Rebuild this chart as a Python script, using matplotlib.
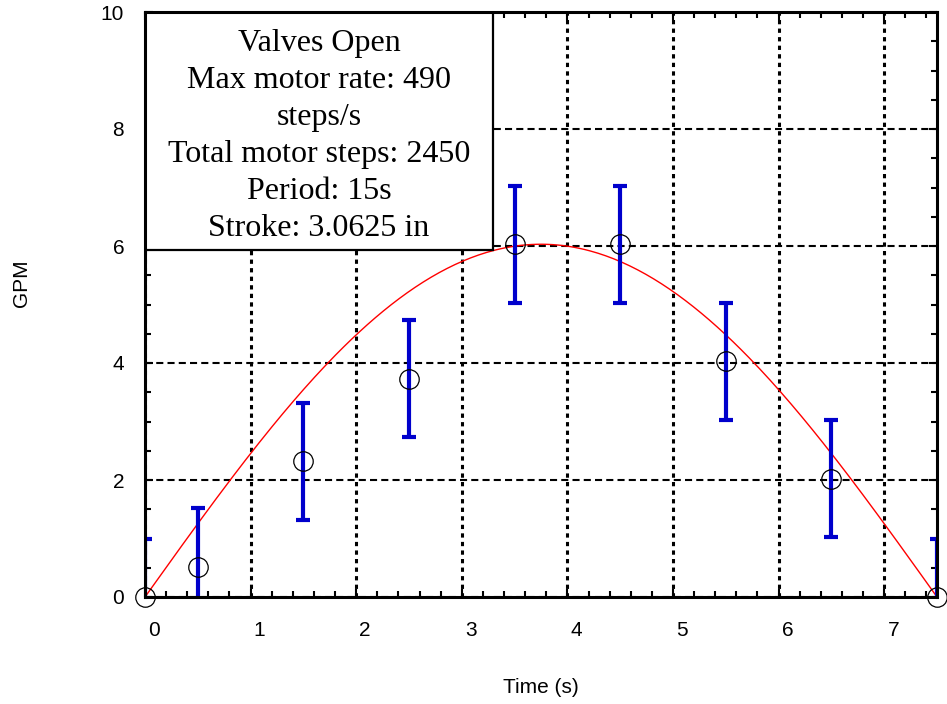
import numpy as np
import matplotlib
matplotlib.use("Agg")
import matplotlib.pyplot as plt
import matplotlib.transforms as mtransforms
from matplotlib.patches import Rectangle

# measured flow values
time_s = [0.0, 0.5, 1.5, 2.5, 3.5, 4.5, 5.5, 6.5, 7.5]
gpm = [0.0, 0.52, 2.32, 3.73, 6.03, 6.03, 4.03, 2.02, 0.0]
gpm_err = [1, 1, 1, 1, 1, 1, 1, 1, 1]

# model curve parameters
amplitude = 6.03
period = 15.0

info_lines = ["Valves Open", "Max motor rate: 490", "steps/s",
              "Total motor steps: 2450", "Period: 15s", "Stroke: 3.0625 in"]

plt.rcParams["font.family"] = ["Liberation Sans", "DejaVu Sans"]

fig = plt.figure(figsize=(9.47, 7.04), dpi=100)
ax = fig.add_axes([145/947, 1-597/704, 792/947, 585/704])

# model sine curve
t = np.linspace(0, 7.5, 300)
ax.plot(t, amplitude*np.sin(2*np.pi*t/period), color="red", lw=1, zorder=3)

# data with error bars
ax.errorbar(time_s, gpm, yerr=gpm_err, fmt="none", ecolor="#0000cc",
            elinewidth=3, capsize=5, capthick=3, zorder=4)
ax.plot(time_s, gpm, "o", mfc="none", mec="black", mew=0.9, ms=14,
        zorder=5, clip_on=False)

ax.set_xlim(0, 7.5)
ax.set_ylim(0, 10)
ax.set_xticks(range(0, 8))
ax.set_yticks(range(0, 11, 2))
ax.set_xticks(np.arange(0, 7.51, 0.2), minor=True)
ax.set_yticks(np.arange(0, 10.01, 0.5), minor=True)

ax.tick_params(which="both", direction="in", top=True, right=True,
               labelsize=15, width=1.5)
ax.tick_params(which="major", length=6)
ax.tick_params(which="minor", length=4.5)
ax.tick_params(axis="x", pad=17)
ax.tick_params(axis="y", pad=15)

# x tick labels sit a little right of the grid lines in the original
shift = mtransforms.ScaledTranslation(9/100, 0, fig.dpi_scale_trans)
for lab in ax.get_xticklabels():
    lab.set_transform(lab.get_transform() + shift)

for sp in ax.spines.values():
    sp.set_linewidth(2.2)
    sp.set_zorder(6)

ax.xaxis.grid(True, color="black", lw=2.2, ls=(0, (1.4, 1.4)))
ax.yaxis.grid(True, color="black", lw=1.5, ls=(0, (3.4, 2)))
ax.set_axisbelow(True)

# info box
box = Rectangle((0, 1-238/585), 348/792, 238/585, transform=ax.transAxes,
                facecolor="white", edgecolor="black", lw=1.6, zorder=3.5)
ax.add_patch(box)
ax.text(174/792, 1-124/585, "\n".join(info_lines), transform=ax.transAxes,
        ha="center", va="center", fontsize=23, linespacing=1.36,
        family="Liberation Serif", zorder=4)

ax.set_xlabel("Time (s)", fontsize=15)
ax.set_ylabel("GPM", fontsize=15)
ax.xaxis.set_label_coords(0.5, -0.138)
ax.yaxis.set_label_coords(-0.144, 0.536)

plt.savefig("out.png", dpi=100)
